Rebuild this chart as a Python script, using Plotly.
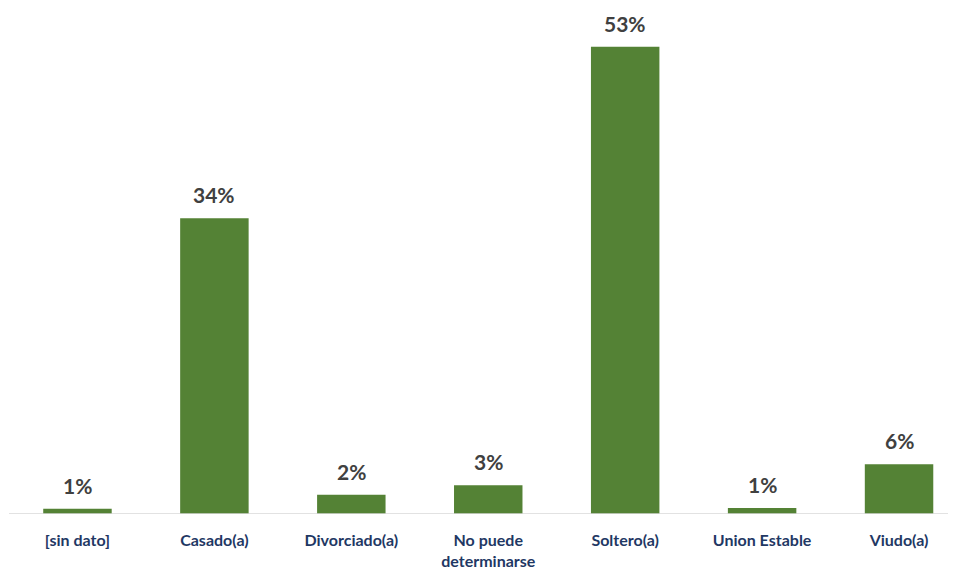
import plotly.graph_objects as go

categories = ["[sin dato]", "Casado(a)", "Divorciado(a)", "No puede<br>determinarse",
              "Soltero(a)", "Union Estable", "Viudo(a)"]
values = [0.6, 33.8, 2.2, 3.3, 53.4, 0.7, 5.7]
labels = [f"{round(v):.0f}%" for v in values]

fig = go.Figure()
fig.add_trace(go.Bar(
    x=categories, y=values, width=0.5,
    marker=dict(color="#548235", line=dict(width=0)),
    hoverinfo="skip",
))

for c, v, t in zip(categories, values, labels):
    fig.add_annotation(x=c, y=v, text=t, showarrow=False, yanchor="bottom",
                       yshift=9, font=dict(family="Lato", size=21, color="#404040", weight="bold"))

fig.update_layout(
    width=956, height=571,
    margin=dict(l=1, r=8, t=7, b=65),
    paper_bgcolor="white", plot_bgcolor="white",
    showlegend=False,
    font=dict(family="Lato"),
    xaxis=dict(
        range=[-0.5, 6.416], showgrid=False, zeroline=False,
        showline=False, ticks="", ticklabelstandoff=15,
        tickfont=dict(family="Lato", size=16, color="#1F3864", weight="bold"),
    ),
    yaxis=dict(range=[0, 57.03], visible=False, showgrid=False, zeroline=False),
)
fig.add_shape(type="line", xref="paper", yref="y", x0=0, x1=1, y0=0, y1=0,
              line=dict(color="#D9D9D9", width=1.5))

fig.write_html("out.html")
